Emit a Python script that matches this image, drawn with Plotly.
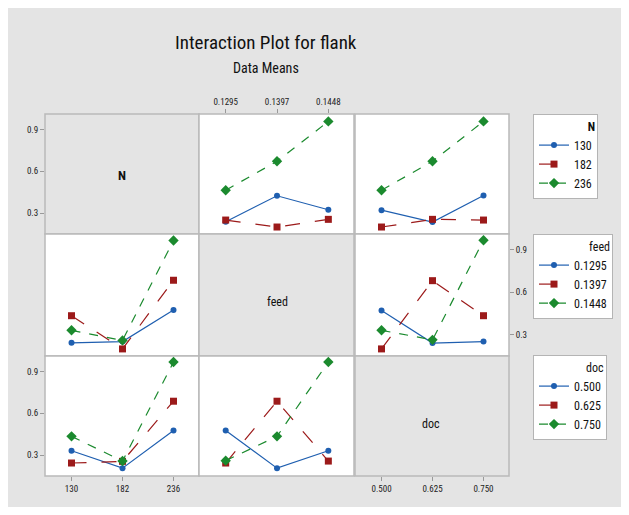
import plotly.graph_objects as go

# page is 629x515; the html body has an 8px margin, so the figure is placed at (8, 8)
PAGE_W, PAGE_H = 629, 515
OX, OY = 8, 8
W, H = PAGE_W - OX, PAGE_H - 2 * OY

# ---- data ----
N_levels = ["130", "182", "236"]
feed_levels = ["0.1295", "0.1397", "0.1448"]
doc_levels = ["0.500", "0.625", "0.750"]
y_ticks = [0.3, 0.6, 0.9]
y_ticktext = ["0.3", "0.6", "0.9"]

# Row 1: series by N
N_vs_feed = {
    "130": [0.238, 0.424, 0.324],
    "182": [0.250, 0.200, 0.255],
    "236": [0.464, 0.671, 0.957],
}
N_vs_doc = {
    "130": [0.321, 0.236, 0.426],
    "182": [0.200, 0.255, 0.250],
    "236": [0.464, 0.671, 0.957],
}
# Row 2: series by feed
feed_vs_N = {
    "0.1295": [0.243, 0.252, 0.474],
    "0.1397": [0.434, 0.200, 0.684],
    "0.1448": [0.331, 0.260, 0.964],
}
feed_vs_doc = {
    "0.1295": [0.471, 0.241, 0.252],
    "0.1397": [0.200, 0.681, 0.434],
    "0.1448": [0.331, 0.264, 0.966],
}
# Row 3: series by doc
doc_vs_N = {
    "0.500": [0.331, 0.206, 0.476],
    "0.625": [0.243, 0.255, 0.686],
    "0.750": [0.434, 0.257, 0.967],
}
doc_vs_feed = {
    "0.500": [0.476, 0.206, 0.331],
    "0.625": [0.243, 0.686, 0.257],
    "0.750": [0.260, 0.434, 0.967],
}

COLORS = ["#1f5fb0", "#9c1a1a", "#1b8a2e"]
SYMBOLS = ["circle", "square", "diamond"]
DASHES = ["solid", "longdash", "dash"]
SIZES = [6, 7, 8]

FONT = "Liberation Sans Narrow, Roboto Condensed, DejaVu Sans Condensed, Roboto, sans-serif"

# pixel geometry (page coordinates)
cols = [(45, 199), (199, 354), (355, 509)]
rows = [(114, 234), (234, 356), (356, 476)]


def px(x):
    return (x - OX) / W


def py(y):
    return 1 - (y - OY) / H


def xd(c):
    return [px(cols[c][0]), px(cols[c][1])]


def yd(r):
    return [py(rows[r][1]), py(rows[r][0])]


fig = go.Figure()


def add_series(data, levels, xaxis, yaxis, legend, show):
    for i, (name, vals) in enumerate(data.items()):
        fig.add_trace(go.Scatter(
            x=levels, y=vals, name=name, mode="lines+markers",
            xaxis=xaxis, yaxis=yaxis, legend=legend, showlegend=show,
            line=dict(color=COLORS[i], width=1.2, dash=DASHES[i]),
            marker=dict(color=COLORS[i], symbol=SYMBOLS[i], size=SIZES[i]),
            hoverinfo="x+y+name",
        ))


add_series(N_vs_feed, feed_levels, "x2", "y", "legend", True)
add_series(N_vs_doc, doc_levels, "x3", "y", "legend", False)
add_series(feed_vs_N, N_levels, "x", "y2", "legend2", True)
add_series(feed_vs_doc, doc_levels, "x3", "y2", "legend2", False)
add_series(doc_vs_N, N_levels, "x", "y3", "legend3", True)
add_series(doc_vs_feed, feed_levels, "x2", "y3", "legend3", False)

tickfont = dict(family=FONT, size=9, color="#222")
axcommon = dict(showgrid=False, zeroline=False, showline=False, ticks="outside",
                ticklen=4, tickcolor="#999", tickfont=tickfont, fixedrange=True)

xrange = [-0.52, 2.5]
yrange = [0.15, 1.01]

fig.update_layout(
    width=W, height=H,
    margin=dict(l=0, r=0, t=0, b=0),
    paper_bgcolor="white",
    plot_bgcolor="rgba(0,0,0,0)",
    font=dict(family=FONT, color="#222"),
    xaxis=dict(domain=xd(0), anchor="y3", side="bottom", type="category",
               categoryarray=N_levels, range=xrange, **axcommon),
    xaxis2=dict(domain=xd(1), anchor="y", side="top", type="category",
                categoryarray=feed_levels, range=xrange, **axcommon),
    xaxis3=dict(domain=xd(2), anchor="y3", side="bottom", type="category",
                categoryarray=doc_levels, range=xrange, **axcommon),
    yaxis=dict(domain=yd(0), anchor="x", side="left", range=yrange,
               tickvals=y_ticks, ticktext=y_ticktext, **axcommon),
    yaxis2=dict(domain=yd(1), anchor="x3", side="right", range=yrange,
                tickvals=y_ticks, ticktext=y_ticktext, **axcommon),
    yaxis3=dict(domain=yd(2), anchor="x", side="left", range=yrange,
                tickvals=y_ticks, ticktext=y_ticktext, **axcommon),
)

legcommon = dict(xanchor="left", yanchor="top", bgcolor="white",
                 bordercolor="#b4b4b4", borderwidth=1, itemwidth=30,
                 font=dict(family=FONT, size=12, color="#111"),
                 itemclick=False, itemdoubleclick=False, tracegroupgap=0)
fig.update_layout(
    legend=dict(x=px(533), y=py(114),
                title=dict(text="<b>N</b>", side="top right", font=dict(family=FONT, size=12)),
                **legcommon),
    legend2=dict(x=px(533), y=py(234),
                 title=dict(text="feed", side="top right", font=dict(family=FONT, size=12)),
                 **legcommon),
    legend3=dict(x=px(533), y=py(355),
                 title=dict(text="doc", side="top right", font=dict(family=FONT, size=12)),
                 **legcommon),
)

shapes = []
# outer grey frame
shapes.append(dict(type="rect", xref="paper", yref="paper", layer="below",
                   x0=px(6), x1=1.05, y0=-0.05, y1=py(6),
                   fillcolor="#e4e4e4", line=dict(color="#cfcfcf", width=1.5)))
# cells
for r in range(3):
    for c in range(3):
        fill = "#e4e4e4" if r == c else "white"
        shapes.append(dict(type="rect", xref="paper", yref="paper", layer="below",
                           x0=px(cols[c][0]), x1=px(cols[c][1]),
                           y0=py(rows[r][1]), y1=py(rows[r][0]),
                           fillcolor=fill, line=dict(color="#b9b9b9", width=1.5)))
fig.update_layout(shapes=shapes)

annotations = [
    dict(text="Interaction Plot for flank", x=px(266), y=py(43),
         font=dict(family=FONT, size=19, color="#111")),
    dict(text="Data Means", x=px(266), y=py(68),
         font=dict(family=FONT, size=14, color="#111")),
    dict(text="<b>N</b>", x=px(122), y=py(175),
         font=dict(family=FONT, size=13, color="#111")),
    dict(text="feed", x=px(277), y=py(302),
         font=dict(family=FONT, size=12, color="#111")),
    dict(text="doc", x=px(431), y=py(424),
         font=dict(family=FONT, size=12, color="#111")),
]
for a in annotations:
    a.update(xref="paper", yref="paper", showarrow=False,
             xanchor="center", yanchor="middle")
fig.update_layout(annotations=annotations)

fig.write_html("out.html")
